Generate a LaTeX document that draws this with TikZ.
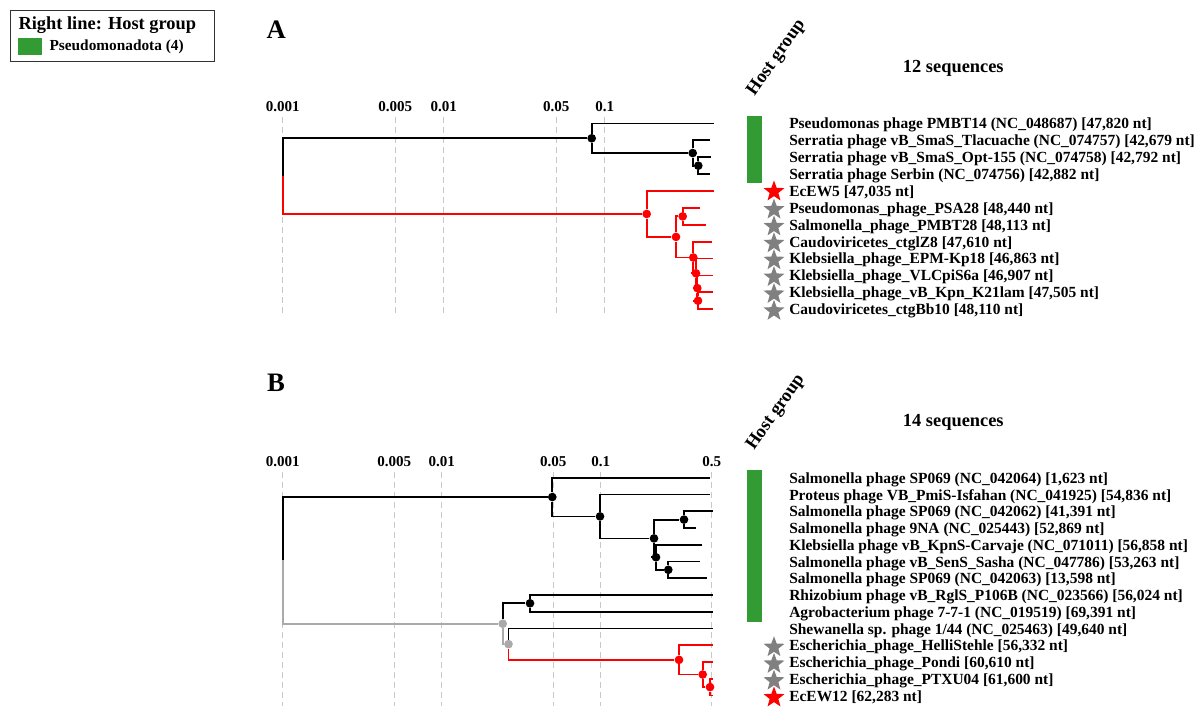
\documentclass[tikz,border=0pt]{standalone}
\usepackage{fontspec}
\setmainfont{Liberation Serif}
\usepackage{tikz}
\usetikzlibrary{shapes.geometric}
\definecolor{hostgreen}{RGB}{51,155,51}
\definecolor{gridgray}{RGB}{200,200,200}
\definecolor{cladegray}{RGB}{170,170,170}
\definecolor{stargray}{RGB}{128,128,128}

\begin{document}
\begin{tikzpicture}[
  x=0.75pt, y=-0.75pt,
  grid/.style={gridgray, line width=0.8pt, dash pattern=on 4.5pt off 3pt},
  branch/.style={line width=1.35pt, #1},
  dot/.style={circle, fill=#1, inner sep=0pt, minimum size=6.5pt},
  lab/.style={anchor=west, inner sep=0pt, font=\fontsize{11.6}{13}\selectfont\bfseries},
  axlab/.style={inner sep=0pt, font=\fontsize{11.3}{13}\selectfont\bfseries},
  title/.style={inner sep=0pt, font=\fontsize{13.8}{16}\selectfont\bfseries},
  panel/.style={inner sep=0pt, font=\fontsize{20}{24}\selectfont\bfseries},
  mark star/.style={star, star points=5, star point ratio=2.4, fill=#1,
    inner sep=0pt, minimum size=16.5pt},
]
\useasboundingbox (0,0) rectangle (1204,715);

% Legend
\draw[line width=0.8pt, black!80] (10.7,10.7) rectangle (214.3,61.7);
\node[title, anchor=west] (legtitle) at (18.3,25) {Right line: Host group};
\fill[hostgreen] (18.3,38.3) rectangle (41.7,55);
\node[lab, font=\fontsize{11.5}{13}\selectfont\bfseries] (legentry) at (49.3,46.7) {Pseudomonadota (4)};

% Panel A
\node[panel] (pA) at (276.3,29.2) {A};
\node[title, rotate=55] (hgA) at (776.7,58) {Host group};
\node[title] (nA) at (953.3,68.5) {12 sequences};
\foreach \x/\t [count=\k] in {282.7/0.001, 395.3/0.005, 443.7/0.01, 556.3/0.05, 604.7/0.1} {
  \node[axlab] (axa\k) at (\x,106.5) {\t};
  \draw[grid] (\x,117) -- (\x,313);
}

% tree A
\coordinate (a0) at (282.7,176.1);
\node[dot=black] (a1) at (591.7,138.3) {};
\node[dot=black] (a2) at (692.7,153.05) {};
\node[dot=black] (a3) at (698.3,165.7) {};
\node[dot=red] (ar1) at (646.7,213.95) {};
\node[dot=red] (ar2) at (676,236.9) {};
\node[dot=red] (ar3) at (682.7,216.35) {};
\node[dot=red] (ar4) at (693.3,257.5) {};
\node[dot=red] (ar5) at (696,273.3) {};
\node[dot=red] (ar6) at (697.3,288.1) {};
\node[dot=red] (ar7) at (698,300.75) {};
\foreach \x [count=\i] in {714,710,710.5,710,714,700,705.7,711.7,713,712.7,712.7,712.7}
  \coordinate (ta\i) at (\x,123.5+16.88*\i-16.88);

\foreach \i/\j in {a0/a1, a1/ta1, a1/a2, a2/ta2, a2/a3, a3/ta3, a3/ta4}
  \draw[branch=black] (\i) |- (\j);
\foreach \i/\j in {a0/ar1, ar1/ta5, ar1/ar2, ar2/ar3, ar3/ta6, ar3/ta7, ar2/ar4,
    ar4/ta8, ar4/ar5, ar5/ta9, ar5/ar6, ar6/ta10, ar6/ar7, ar7/ta11, ar7/ta12}
  \draw[branch=red] (\i) |- (\j);

% host bar and labels A
\fill[hostgreen] (746.7,116) rectangle (762.3,182.7);
\node[mark star=red] (sa5) at (774,191.5) {};
\foreach \i in {6,...,12}
  \node[mark star=stargray] (sa\i) at (774,125.2+16.88*\i-16.88) {};
\foreach \t [count=\i] in {
    {Pseudomonas phage PMBT14 (NC\_048687) [47,820 nt]},
    {Serratia phage vB\_SmaS\_Tlacuache (NC\_074757) [42,679 nt]},
    {Serratia phage vB\_SmaS\_Opt-155 (NC\_074758) [42,792 nt]},
    {Serratia phage Serbin (NC\_074756) [42,882 nt]},
    {EcEW5 [47,035 nt]},
    {Pseudomonas\_phage\_PSA28 [48,440 nt]},
    {Salmonella\_phage\_PMBT28 [48,113 nt]},
    {Caudoviricetes\_ctglZ8 [47,610 nt]},
    {Klebsiella\_phage\_EPM-Kp18 [46,863 nt]},
    {Klebsiella\_phage\_VLCpiS6a [46,907 nt]},
    {Klebsiella\_phage\_vB\_Kpn\_K21lam [47,505 nt]},
    {Caudoviricetes\_ctgBb10 [48,110 nt]}}
  \node[lab] (la\i) at (789,125.2+16.88*\i-16.88) {\t};

% Panel B
\node[panel] (pB) at (276,382.5) {B};
\node[title, rotate=55] (hgB) at (776,412.5) {Host group};
\node[title] (nB) at (953.3,422.5) {14 sequences};
\foreach \x/\t [count=\k] in {282.7/0.001, 394.3/0.005, 441.7/0.01, 553.3/0.05, 600.7/0.1, 711.7/0.5} {
  \node[axlab] (axb\k) at (\x,462) {\t};
  \draw[grid] (\x,472) -- (\x,706);
}

% tree B
\coordinate (b0) at (282.7,560.4);
\node[dot=black] (b1) at (552.3,497.05) {};
\node[dot=black] (b2) at (600,516.4) {};
\node[dot=black] (b3) at (654,538.4) {};
\node[dot=black] (b4) at (684,519.6) {};
\node[dot=black] (b5) at (656,557.25) {};
\node[dot=black] (b6) at (668.3,569.8) {};
\node[dot=cladegray] (g1) at (502.7,623.7) {};
\node[dot=black] (b7) at (530,603.3) {};
\node[dot=cladegray] (g2) at (508.5,644.15) {};
\node[dot=red] (br1) at (679,659.85) {};
\node[dot=red] (br2) at (702.7,674.5) {};
\node[dot=red] (br3) at (710,687.1) {};
\foreach \x [count=\i] in {710,710,713.3,696,701.7,700,707.3,713.3,713.3,713.3,713.3,713.3,713.3,713.3}
  \coordinate (tb\i) at (\x,477.7+16.75*\i-16.75);

\foreach \i/\j in {b0/b1, b1/tb1, b1/b2, b2/tb2, b2/b3, b3/b4, b4/tb3, b4/tb4,
    b3/b5, b5/tb5, b5/b6, b6/tb6, b6/tb7, g1/b7, b7/tb8, b7/tb9, g2/tb10}
  \draw[branch=black] (\i) |- (\j);
\foreach \i/\j in {b0/g1, g1/g2}
  \draw[branch=cladegray] (\i) |- (\j);
\foreach \i/\j in {g2/br1, br1/tb11, br1/br2, br2/tb12, br2/br3, br3/tb13, br3/tb14}
  \draw[branch=red] (\i) |- (\j);

% host bar and labels B
\fill[hostgreen] (746.7,470) rectangle (762.3,621.7);
\foreach \i in {11,12,13}
  \node[mark star=stargray] (sb\i) at (774,479.7+16.75*\i-16.75) {};
\node[mark star=red] (sb14) at (774,697.5) {};
\foreach \t [count=\i] in {
    {Salmonella phage SP069 (NC\_042064) [1,623 nt]},
    {Proteus phage VB\_PmiS-Isfahan (NC\_041925) [54,836 nt]},
    {Salmonella phage SP069 (NC\_042062) [41,391 nt]},
    {Salmonella phage 9NA (NC\_025443) [52,869 nt]},
    {Klebsiella phage vB\_KpnS-Carvaje (NC\_071011) [56,858 nt]},
    {Salmonella phage vB\_SenS\_Sasha (NC\_047786) [53,263 nt]},
    {Salmonella phage SP069 (NC\_042063) [13,598 nt]},
    {Rhizobium phage vB\_RglS\_P106B (NC\_023566) [56,024 nt]},
    {Agrobacterium phage 7-7-1 (NC\_019519) [69,391 nt]},
    {Shewanella sp. phage 1/44 (NC\_025463) [49,640 nt]},
    {Escherichia\_phage\_HelliStehle [56,332 nt]},
    {Escherichia\_phage\_Pondi [60,610 nt]},
    {Escherichia\_phage\_PTXU04 [61,600 nt]},
    {EcEW12 [62,283 nt]}}
  \node[lab] (lb\i) at (789,479.7+16.75*\i-16.75) {\t};

\end{tikzpicture}
\end{document}
